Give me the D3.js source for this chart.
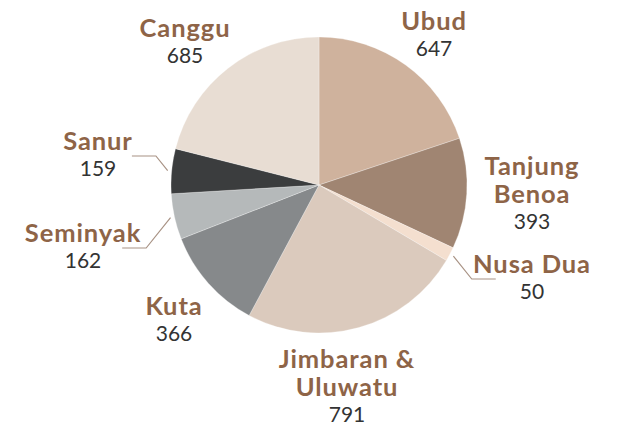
<!DOCTYPE html>
<meta charset="utf-8">
<script src="https://d3js.org/d3.v7.min.js"></script>
<style>
body { margin: 0; background: #fff; }
.name { font-family: Lato, sans-serif; font-weight: 700; fill: #8e6447; font-size: 25.5px; letter-spacing: 0.9px; }
.num { font-family: Lato, sans-serif; fill: #333; font-size: 21px; }
.leader { fill: none; stroke: #a89284; stroke-width: 1.2px; }
</style>
<svg width="617" height="431"></svg>
<script>

// data, clockwise from 12 o'clock
var areas  = ["Ubud", "Tanjung Benoa", "Nusa Dua", "Jimbaran & Uluwatu", "Kuta", "Seminyak", "Sanur", "Canggu"];
var counts = [647, 393, 50, 791, 366, 162, 159, 685];
var colors = ["#cfb29d", "#a08572", "#f4dfcf", "#dbcabd", "#86898b", "#b5b9ba", "#3b3d3e", "#e8ddd3"];

// label lines + placement (layout only)
var labelLines = [["Ubud"], ["Tanjung", "Benoa"], ["Nusa Dua"], ["Jimbaran &", "Uluwatu"], ["Kuta"], ["Seminyak"], ["Sanur"], ["Canggu"]];
var labelPos = [
  {x: 434, y: 30},
  {x: 532, y: 175},
  {x: 532, y: 273, leader: "right"},
  {x: 347, y: 368},
  {x: 174, y: 315},
  {x: 83,  y: 242, leader: "left"},
  {x: 98,  y: 150, leader: "left"},
  {x: 185, y: 37}
];

var svg = d3.select("svg"),
    cx = 319, cy = 185, r = 148;

var data = areas.map(function(a, i) { return {name: a, value: counts[i], i: i}; });

var pie = d3.pie().sort(null).value(function(d) { return d.value; });
var arc = d3.arc().innerRadius(0).outerRadius(r);
var color = d3.scaleOrdinal().domain(areas).range(colors);

var g = svg.append("g").attr("transform", "translate(" + cx + "," + cy + ")");
var arcs = pie(data);

g.selectAll("path.slice")
    .data(arcs)
  .enter().append("path")
    .attr("class", "slice")
    .attr("d", arc)
    .attr("fill", function(d) { return color(d.data.name); })
    .attr("stroke", "rgba(255,255,255,0.35)")
    .attr("stroke-width", 0.8);

// labels
arcs.forEach(function(d, i) {
  var p = labelPos[i], lines = labelLines[i];
  var t = svg.append("text").attr("text-anchor", "middle");
  lines.forEach(function(l, k) {
    t.append("tspan").attr("class", "name").attr("x", p.x).attr("y", p.y + k * 28).text(l);
  });
  svg.append("text").attr("class", "num").attr("text-anchor", "middle")
      .attr("x", p.x).attr("y", p.y + (lines.length - 1) * 28 + 26)
      .text(d.data.value);

  if (p.leader) {
    var mid = (d.startAngle + d.endAngle) / 2,
        sx = cx + Math.sin(mid) * (r + 4),
        sy = cy - Math.cos(mid) * (r + 4),
        ly = p.y + 6,
        dir = p.leader == "left" ? -1 : 1,
        ex = sx + dir * (Math.abs(ly - sy) * 0.8),
        fx = ex + dir * 24;
    svg.append("path").attr("class", "leader")
        .attr("d", d3.line()([[sx, sy], [ex, ly], [fx, ly]]));
  }
});

</script>
